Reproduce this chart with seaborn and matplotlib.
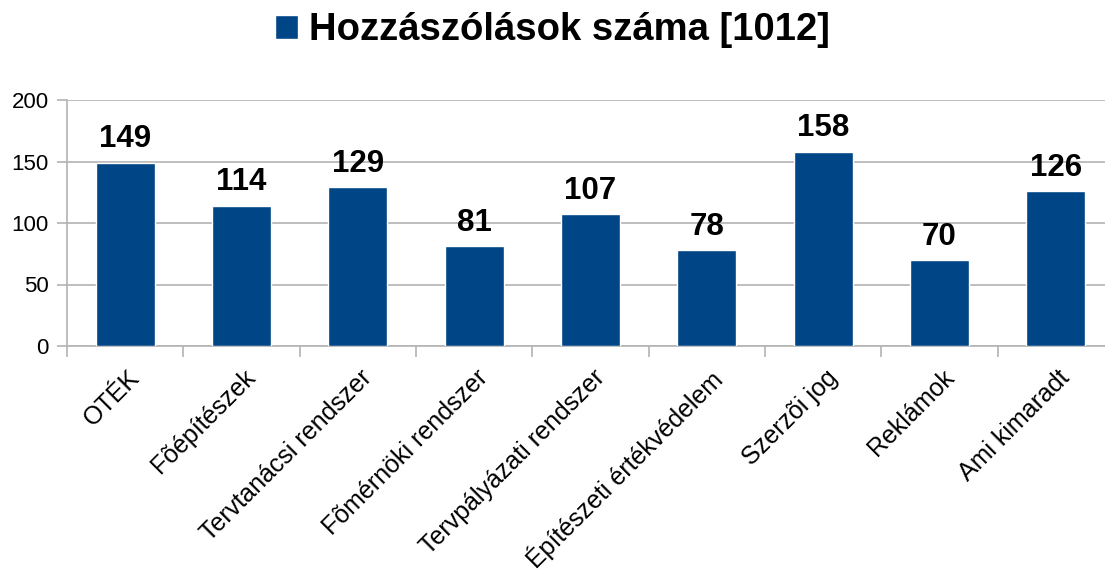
import pandas as pd
import matplotlib
matplotlib.use("Agg")
import matplotlib.pyplot as plt
import matplotlib.transforms as mtransforms
import seaborn as sns
from matplotlib.ticker import FixedLocator

# --- DATA ---
categories = ["OTÉK", "Fõépítészek", "Tervtanácsi rendszer", "Fõmérnöki rendszer",
              "Tervpályázati rendszer", "Építészeti értékvédelem", "Szerzõi jog",
              "Reklámok", "Ami kimaradt"]
counts = [149, 114, 129, 81, 107, 78, 158, 70, 126]
series_name = "Hozzászólások száma [1012]"
y_ticks = [0, 50, 100, 150, 200]

BAR_COLOR = "#004586"
GRID_COLOR = "#b3b3b3"


def make_chart():
    df = pd.DataFrame({"Kategória": categories, "Darab": counts})

    sns.set_theme(style="white")
    plt.rcParams["font.family"] = ["Liberation Sans", "DejaVu Sans"]
    plt.rcParams["text.color"] = "black"

    fig = plt.figure(figsize=(11.05, 5.74), dpi=100)
    ax = fig.add_axes([67 / 1105, 1 - 346 / 574, 1047 / 1105, 246 / 574])

    sns.barplot(data=df, x="Kategória", y="Darab", color=BAR_COLOR, width=0.51,
                saturation=1, label=series_name, ax=ax, zorder=3)

    ax.set_ylim(0, 200)
    ax.set_xlim(-0.5, len(categories) - 0.5)
    ax.set_yticks(y_ticks)
    ax.yaxis.grid(True, color=GRID_COLOR, linewidth=1.2, zorder=0)
    ax.set_xlabel("")
    ax.set_ylabel("")

    for side in ["top", "right"]:
        ax.spines[side].set_visible(False)
    for side in ["left", "bottom"]:
        ax.spines[side].set_color(GRID_COLOR)
        ax.spines[side].set_linewidth(1.2)

    # ticks: y outward, x only at category boundaries
    ax.tick_params(axis="y", length=7, width=1.2, color=GRID_COLOR, labelsize=16,
                   labelcolor="black", pad=6, left=True)
    ax.tick_params(axis="x", which="major", length=0, labelsize=18, labelcolor="black", pad=14)
    ax.xaxis.set_minor_locator(FixedLocator([i - 0.5 for i in range(len(categories) + 1)]))
    ax.tick_params(axis="x", which="minor", length=8, width=1.2, color=GRID_COLOR, bottom=True)

    # rotated labels, top-right corner a bit right of the category centre
    shift = mtransforms.ScaledTranslation(0.02, 0, fig.dpi_scale_trans)
    for lbl in ax.get_xticklabels():
        lbl.set_rotation(45)
        lbl.set_ha("right")
        lbl.set_va("top")
        lbl.set_rotation_mode("anchor")
        lbl.set_transform(lbl.get_transform() + shift)

    ax.bar_label(ax.containers[0], padding=6, fontsize=22.5, fontweight="bold", color="black")

    ax.legend().remove()
    fig.legend(loc="upper center", bbox_to_anchor=(0.5, 1.005), frameon=False,
               prop={"size": 27.5, "weight": "bold"}, handlelength=0.6,
               handleheight=0.6, handletextpad=0.3, borderaxespad=0)

    fig.savefig("out.png", dpi=100)


if __name__ == "__main__":
    make_chart()
